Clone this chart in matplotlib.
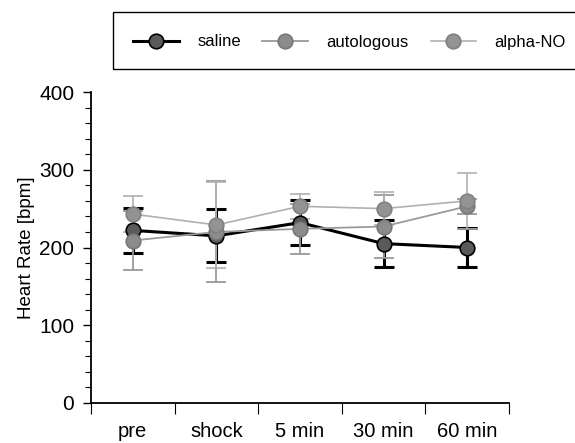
import matplotlib
matplotlib.use("Agg")
import matplotlib.pyplot as plt
from matplotlib.patches import Rectangle
from matplotlib.ticker import MultipleLocator, FixedLocator, NullFormatter

plt.rcParams["font.family"] = ["Liberation Sans", "DejaVu Sans"]

categories = ["pre", "shock", "5 min", "30 min", "60 min"]

saline_mean = [222, 215, 232, 205, 200]
saline_sd = [29, 34, 29, 30, 25]
autologous_mean = [209, 220, 224, 227, 253]
autologous_sd = [38, 65, 32, 40, 10]
alpha_no_mean = [243, 229, 253, 250, 260]
alpha_no_sd = [23, 55, 16, 21, 36]

series = [
    ("saline", saline_mean, saline_sd, "black", "#5a5a5a", "black", 2.2),
    ("autologous", autologous_mean, autologous_sd, "#9a9a9a", "#8c8c8c", "#777777", 1.3),
    ("alpha-NO", alpha_no_mean, alpha_no_sd, "#b0b0b0", "#939393", "#808080", 1.2),
]

fig = plt.figure(figsize=(5.75, 4.43), dpi=100)
ax = fig.add_axes([91 / 575, 40 / 443, 418 / 575, 311 / 443])

xs = list(range(len(categories)))
handles = []
for name, mean, sd, lc, fc, ec, lw in series:
    ax.errorbar(xs, mean, yerr=sd, fmt="none", ecolor=lc, elinewidth=lw,
                capsize=7, capthick=lw, zorder=2)
    (h,) = ax.plot(xs, mean, color=lc, lw=lw, marker="o", markersize=10.5,
                   markerfacecolor=fc, markeredgecolor=ec, markeredgewidth=1.2,
                   label=name, zorder=3)
    handles.append(h)

ax.set_xlim(-0.5, len(categories) - 0.5)
ax.set_ylim(0, 400)
ax.spines[["top", "right"]].set_visible(False)
ax.spines["left"].set_linewidth(1.3)
ax.spines["bottom"].set_linewidth(1.3)

ax.yaxis.set_major_locator(MultipleLocator(100))
ax.yaxis.set_minor_locator(MultipleLocator(20))
ax.tick_params(axis="y", which="major", length=6, width=1, pad=6, labelsize=15)
ax.tick_params(axis="y", which="minor", length=4, width=0.8)

ax.xaxis.set_major_locator(FixedLocator([x - 0.5 for x in range(len(categories) + 1)]))
ax.xaxis.set_major_formatter(NullFormatter())
ax.xaxis.set_minor_locator(FixedLocator(xs))
ax.set_xticklabels(categories, minor=True)
ax.tick_params(axis="x", which="major", length=8, width=0.8)
ax.tick_params(axis="x", which="minor", length=0, pad=14, labelsize=14.5)

ax.set_ylabel("Heart Rate [bpm]", fontsize=13.5, labelpad=3)

# legend frame runs off the right edge, as in the original
fig.add_artist(Rectangle((113 / 575, 1 - 69 / 443), 480 / 575, 57 / 443,
                         transform=fig.transFigure, fill=False,
                         edgecolor="black", lw=1.0, clip_on=False))
fig.legend(handles=handles, loc="center left", bbox_to_anchor=(133 / 575, 1 - 42 / 443),
           ncol=3, frameon=False, fontsize=12, handlelength=2.75,
           handletextpad=1.1, columnspacing=1.3, borderaxespad=0, borderpad=0)

fig.savefig("out.png", dpi=100)
